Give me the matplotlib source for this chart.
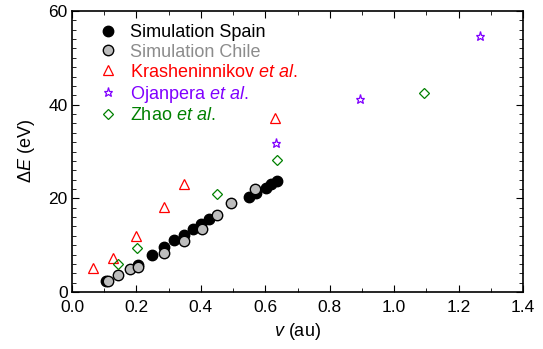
import numpy as np
import matplotlib.pyplot as plt
from matplotlib.ticker import MultipleLocator, FormatStrFormatter

plt.rcParams['font.family'] = ['Liberation Sans', 'DejaVu Sans']
plt.rcParams['mathtext.fontset'] = 'custom'
plt.rcParams['mathtext.rm'] = 'Liberation Sans'
plt.rcParams['mathtext.it'] = 'Liberation Sans:italic'

# data
v_spain = [0.105, 0.204, 0.247, 0.287, 0.318, 0.349, 0.375, 0.401, 0.425, 0.55, 0.571, 0.601, 0.617, 0.636]
e_spain = [2.4, 5.8, 8.0, 9.7, 11.2, 12.2, 13.5, 14.5, 15.5, 20.2, 21.1, 22.3, 23.1, 23.7]

v_chile = [0.113, 0.144, 0.181, 0.204, 0.287, 0.349, 0.403, 0.45, 0.492, 0.568]
e_chile = [2.4, 3.6, 4.9, 5.4, 8.4, 10.9, 13.4, 16.4, 18.9, 22.0]

v_krash = [0.066, 0.128, 0.2, 0.287, 0.349, 0.630]
e_krash = [5.1, 7.2, 12.0, 18.1, 23.0, 37.2]

v_ojan = [0.634, 0.895, 1.265]
e_ojan = [31.9, 41.3, 54.7]

v_zhao = [0.144, 0.203, 0.451, 0.636, 1.094]
e_zhao = [5.9, 9.3, 21.0, 28.2, 42.4]

purple = '#8000ff'
green = '#008000'
grey_txt = '#8c8c8c'

fig = plt.figure(figsize=(5.43, 3.49), dpi=100)
ax = fig.add_axes([0.1326, 0.1633, 0.9632 - 0.1326, 0.9685 - 0.1633])

ax.plot(v_spain, e_spain, 'o', ms=7.5, mfc='black', mec='black', label='Simulation Spain')
ax.plot(v_chile, e_chile, 'o', ms=7.5, mfc='#bdbdbd', mec='black', mew=1.0, label='Simulation Chile')
ax.plot(v_krash, e_krash, '^', ms=6.5, mfc='none', mec='red', mew=0.9, label=r'Krasheninnikov $\it{et\ al.}$')
ax.plot(v_ojan, e_ojan, '*', ms=6.5, mfc='none', mec=purple, mew=0.9, label=r'Ojanpera $\it{et\ al.}$')
ax.plot(v_zhao, e_zhao, 'D', ms=5, mfc='none', mec=green, mew=0.9, label=r'Zhao $\it{et\ al.}$')

ax.set_xlim(0, 1.4)
ax.set_ylim(0, 60)
ax.xaxis.set_major_locator(MultipleLocator(0.2))
ax.xaxis.set_minor_locator(MultipleLocator(0.1))
ax.xaxis.set_major_formatter(FormatStrFormatter('%.1f'))
ax.yaxis.set_major_locator(MultipleLocator(20))
ax.yaxis.set_minor_locator(MultipleLocator(2))
ax.tick_params(which='both', direction='in', top=True, right=True, labelsize=12.5)
ax.tick_params(which='major', length=5)
ax.tick_params(which='minor', length=3)
ax.tick_params(axis='x', pad=6)
ax.tick_params(axis='y', pad=3)
for s in ax.spines.values():
    s.set_linewidth(1.2)

ax.set_xlabel(r'$\it{v}$ (au)', fontsize=13, labelpad=4)
ax.set_ylabel(r'$\Delta\it{E}$ (eV)', fontsize=13, labelpad=8)

leg = ax.legend(loc='upper left', bbox_to_anchor=(0.04, 0.98), frameon=False,
                fontsize=13, handletextpad=0.6, labelspacing=0.16, handlelength=1.2,
                borderaxespad=0)
for txt, col in zip(leg.get_texts(), ['black', grey_txt, 'red', purple, green]):
    txt.set_color(col)

fig.savefig('out.png', dpi=100)
